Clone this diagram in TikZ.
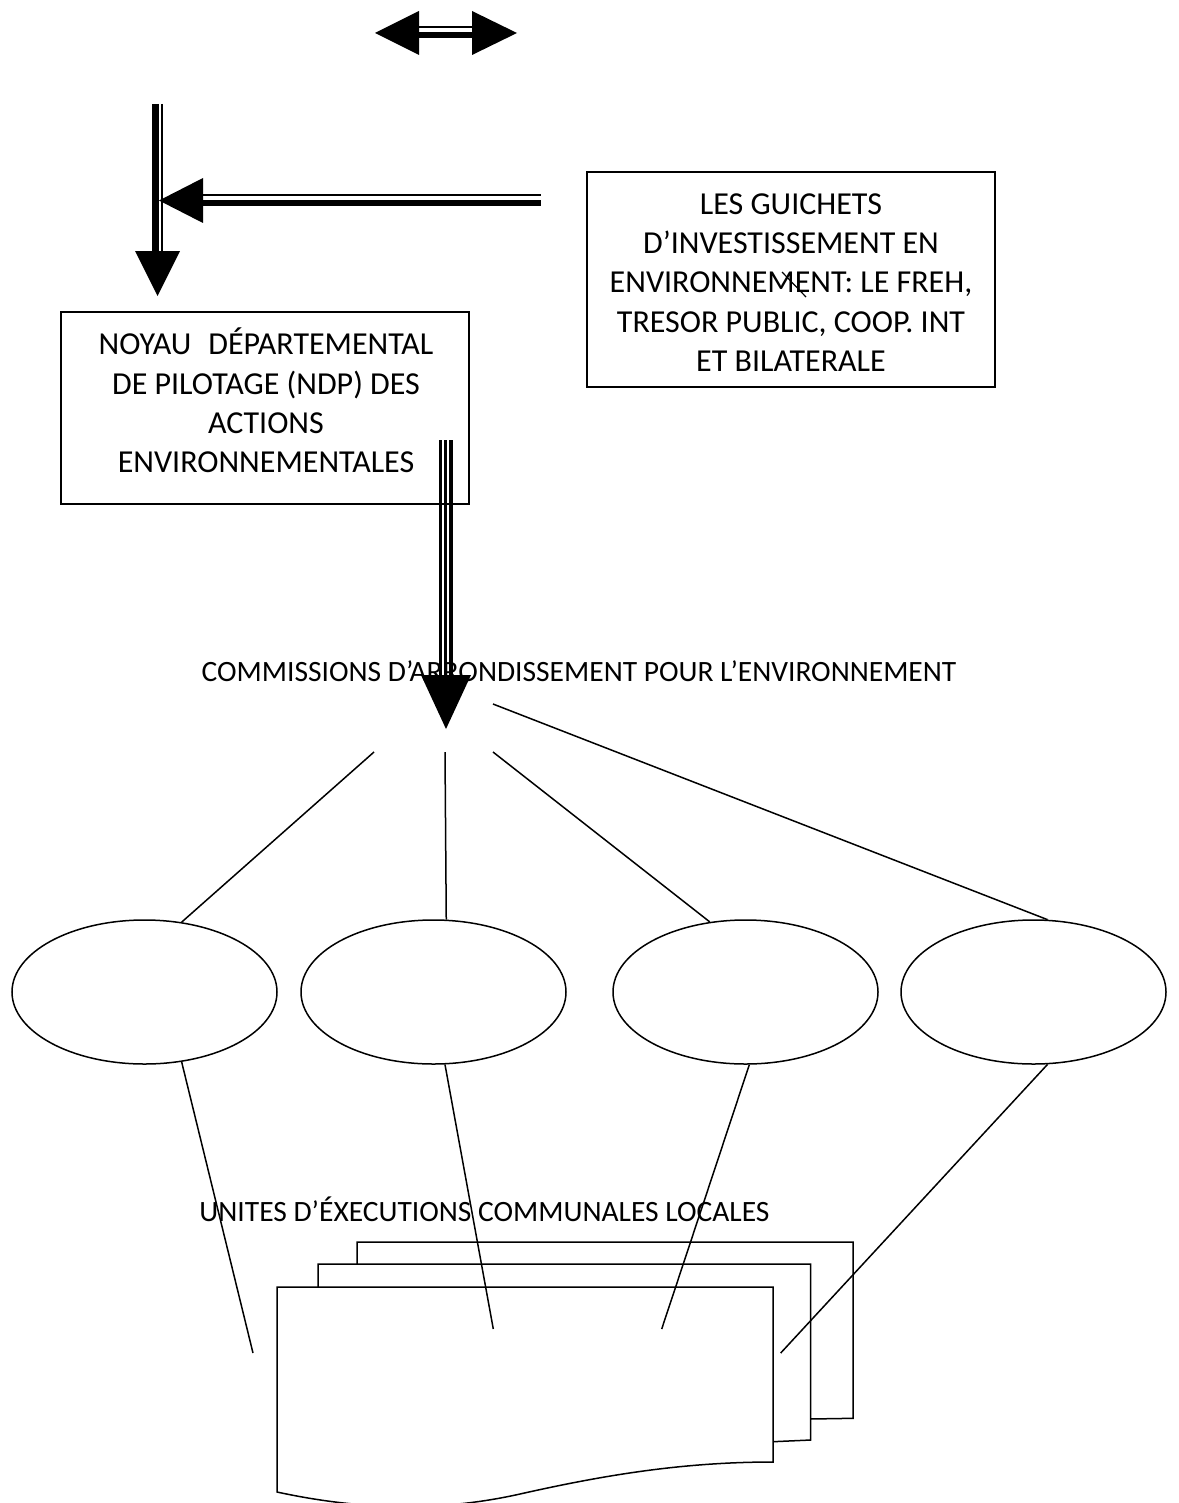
\documentclass[tikz,border=0pt]{standalone}
\usepackage{fontspec}
\setmainfont{Carlito}
\usetikzlibrary{shapes.geometric}
\begin{document}
\begin{tikzpicture}[x=0.5pt,y=-0.5pt,
  thinline/.style={line width=0.75pt},
  boxstyle/.style={draw, line width=0.75pt, rectangle, inner sep=0pt},
  boxtext/.style={font=\fontsize{16}{19.65}\selectfont, align=center, inner sep=0pt},
  oval/.style={draw, ellipse, line width=0.75pt, minimum width=132.5pt, minimum height=72pt, inner sep=0pt},
  txt/.style={font=\fontsize{14.75}{18}\selectfont, inner sep=0pt},
  sheet/.style={draw, fill=white, line width=0.75pt},
]
\useasboundingbox (0,0) rectangle (1178,1503);

% boxes
\node[boxstyle, minimum width=204pt, minimum height=107.5pt] (guichets) at (791,279.5) {};
\node[boxtext] (guichetstext) at (791,282.5)
  {LES GUICHETS\\D’INVESTISSEMENT EN\\ENVIRONNEMENT: LE FREH,\\TRESOR PUBLIC, COOP. INT\\ET BILATERALE};
\draw[line width=0.6pt] (782,272) -- (806,297);

\node[boxstyle, minimum width=204pt, minimum height=96pt] (ndp) at (265,408) {};
\node[boxtext] (ndptext) at (266,400.5)
  {NOYAU\hspace{8.5pt}DÉPARTEMENTAL\\DE PILOTAGE (NDP) DES\\ACTIONS\\ENVIRONNEMENTALES};

% labels
\node[txt] (cae) at (579,671) {COMMISSIONS D’ARRONDISSEMENT POUR L’ENVIRONNEMENT};
\node[txt] (uecl) at (484.5,1209) {UNITES D’ÉXECUTIONS COMMUNALES LOCALES};

% top double arrow
\coordinate (dal) at (375,33);
\coordinate (dar) at (517,33);
\fill (dal) -- (419,11) -- (419,55) -- cycle;
\fill (dar) -- (472,11) -- (472,55) -- cycle;
\draw[line width=1pt] (419,26.7) -- (472,26.7);
\draw[line width=3.3pt] (419,35) -- (472,35);

% vertical arrow left
\coordinate (vtop) at (157.5,104);
\coordinate (vtip) at (157.5,296);
\draw[line width=3.5pt] (155.5,104) -- (155.5,251);
\draw[line width=1pt] (162,104) -- (162,251);
\fill (135,251) -- (180,251) -- (vtip) -- cycle;

% horizontal arrow
\coordinate (hstart) at (541,200);
\coordinate (htip) at (159,200.5);
\draw[line width=1.2pt] (203,195) -- (541,195);
\draw[line width=3pt] (203,203) -- (541,203);
\fill (htip) -- (203,178) -- (203,223) -- cycle;

% triple arrow from NDP to commissions
\coordinate (ttop) at (445,440);
\coordinate (ttip) at (446,729);
\draw[line width=1.5pt] (440,440) -- (440,675);
\draw[line width=1.5pt] (445,440) -- (445,675);
\draw[line width=2.3pt] (450.8,440) -- (450.8,675);
\fill (421,675) -- (471,675) -- (ttip) -- cycle;

% ellipses
\node[oval] (e1) at (144.5,992) {};
\node[oval] (e2) at (433.5,992) {};
\node[oval] (e3) at (745.5,992) {};
\node[oval] (e4) at (1033.5,992) {};

% lines from commissions to ellipses
\coordinate (c1) at (374,752);
\coordinate (c2) at (445,752);
\coordinate (c3) at (493,752);
\coordinate (c4) at (493,704);
\draw[thinline] (c1) -- (e1.62.2);
\draw[thinline] (c2) -- (e2.80.9);
\draw[thinline] (c3) -- (e3.117.1);
\draw[thinline] (c4) -- (e4.79.3);

% stacked sheets
\path[sheet] (357,1242) -- (853,1242) -- (853,1418.3) -- (810,1419) -- (357,1420) -- cycle;
\path[sheet] (318,1264) -- (810.7,1264) -- (810.7,1440) -- (773,1441.7) -- (318,1445) -- cycle;
\path[sheet] (277,1287) -- (773,1287) -- (773,1462)
  .. controls (680,1462) and (600,1476) .. (520,1494)
  .. controls (440,1512) and (360,1510) .. (277,1492) -- cycle;

% lines from ellipses to sheets
\coordinate (d1) at (253,1353);
\coordinate (d2) at (493.3,1329);
\coordinate (d3) at (661.7,1329);
\coordinate (d4) at (780.7,1353);
\draw[thinline] (e1.-62.2) -- (d1);
\draw[thinline] (e2.-81.7) -- (d2);
\draw[thinline] (e3.-87.2) -- (d3);
\draw[thinline] (e4.-79.3) -- (d4);
\end{tikzpicture}
\end{document}
